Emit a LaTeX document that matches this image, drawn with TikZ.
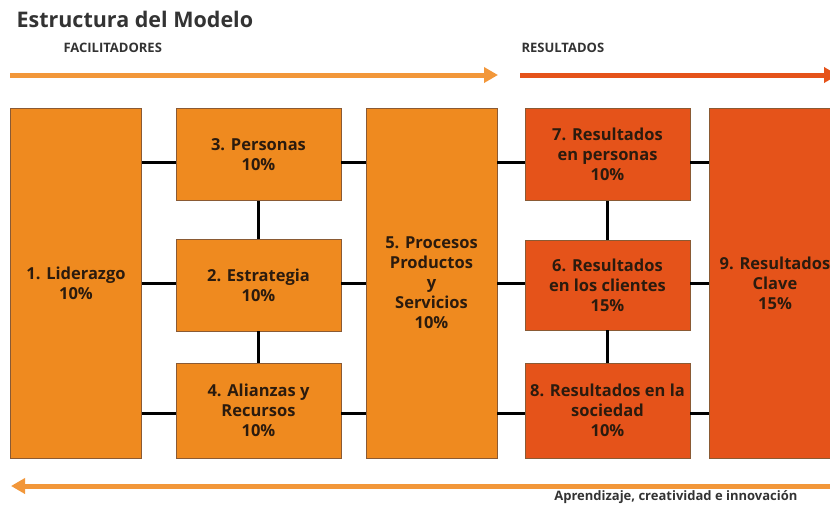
\documentclass[tikz,border=0pt]{standalone}
\usepackage{fontspec}
\setmainfont{Open Sans}
\usetikzlibrary{arrows.meta}

\definecolor{naranja}{HTML}{EF8A1F}
\definecolor{rojizo}{HTML}{E5531A}
\definecolor{flecha}{HTML}{F2973A}
\definecolor{texto}{HTML}{2B1B0E}
\definecolor{gris}{HTML}{333333}
\definecolor{borde}{HTML}{8A5A34}

\begin{document}
\begin{tikzpicture}[
x=1pt, y=-1pt,
box/.style={
  draw=borde,
  line width=0.8pt,
  fill=naranja,
  text=texto,
  font=\bfseries\fontsize{16.5}{20}\selectfont,
  align=center,
  inner sep=2pt
  },
tall/.style={
  box,
  minimum width=131pt,
  minimum height=350pt
  },
small/.style={
  box,
  minimum width=165pt,
  minimum height=92pt
  },
res/.style={
  fill=rojizo
  },
head/.style={
  text=gris,
  font=\bfseries\fontsize{13}{15}\selectfont
  },
link/.style={
  draw=black,
  line width=3pt
  },
band/.style={
  line width=5pt,
  -{Triangle[length=14pt,width=15pt]}
  },
>=latex
]
\useasboundingbox (0,0) rectangle (830,507);

% title and headers
\node[anchor=west, text=gris, font=\bfseries\fontsize{21.5}{25}\selectfont] (tit) at (13,19) {Estructura del Modelo};
\node[anchor=west, head] (fac) at (60,48) {FACILITADORES};
\node[anchor=west, head] (resu) at (518,48) {RESULTADOS};

% top and bottom arrows
\coordinate (fa) at (10,75);
\coordinate (fb) at (498,75);
\coordinate (ra) at (520,75);
\coordinate (rb) at (838,75);
\coordinate (ba) at (830,486);
\coordinate (bb) at (11,486);
\draw[band, flecha] (fa) -- (fb);
\draw[band, rojizo] (ra) -- (rb);
\draw[band, flecha] (ba) -- (bb);
\node[anchor=east, head] (apr) at (801,497) {Aprendizaje, creatividad e innovación};

% boxes
\node[tall] (lid) at (76,283) {1. Liderazgo\\10\%};
\node[small] (per) at (258.5,154.5) {3. Personas\\10\%};
\node[small] (est) at (258.5,285) {2. Estrategia\\10\%};
\node[small, minimum height=95pt] (ali) at (258.5,410.5) {4. Alianzas y\\Recursos\\10\%};
\node[tall] (pro) at (431.5,283) {5. Procesos\\Productos\\y\\Servicios\\10\%};
\node[small, res] (rper) at (607.5,154.5) {7. Resultados\\en personas\\10\%};
\node[small, res, minimum height=90pt] (rcli) at (607.5,285) {6. Resultados\\en los clientes\\15\%};
\node[small, res, minimum height=95pt] (rsoc) at (607.5,410.5) {8. Resultados en la\\sociedad\\10\%};
\node[tall, res] (rcla) at (775,283) {9. Resultados\\Clave\\15\%};

% rows of links
\coordinate (row1) at (0,162);
\coordinate (row2) at (0,283);
\coordinate (row3) at (0,413);
\foreach \l/\r/\w in {per/rper/row1, est/rcli/row2, ali/rsoc/row3}
{
  \draw[link] (lid.east |- \w) -- (\l.west |- \w);
  \draw[link] (\l.east |- \w) -- (pro.west |- \w);
  \draw[link] (pro.east |- \w) -- (\r.west |- \w);
  \draw[link] (\r.east |- \w) -- (rcla.west |- \w);
}

% vertical links
\foreach \a/\b in {per/est, est/ali, rper/rcli, rcli/rsoc}
  \draw[link] (\a.south) -- (\b.north);
\end{tikzpicture}
\end{document}
